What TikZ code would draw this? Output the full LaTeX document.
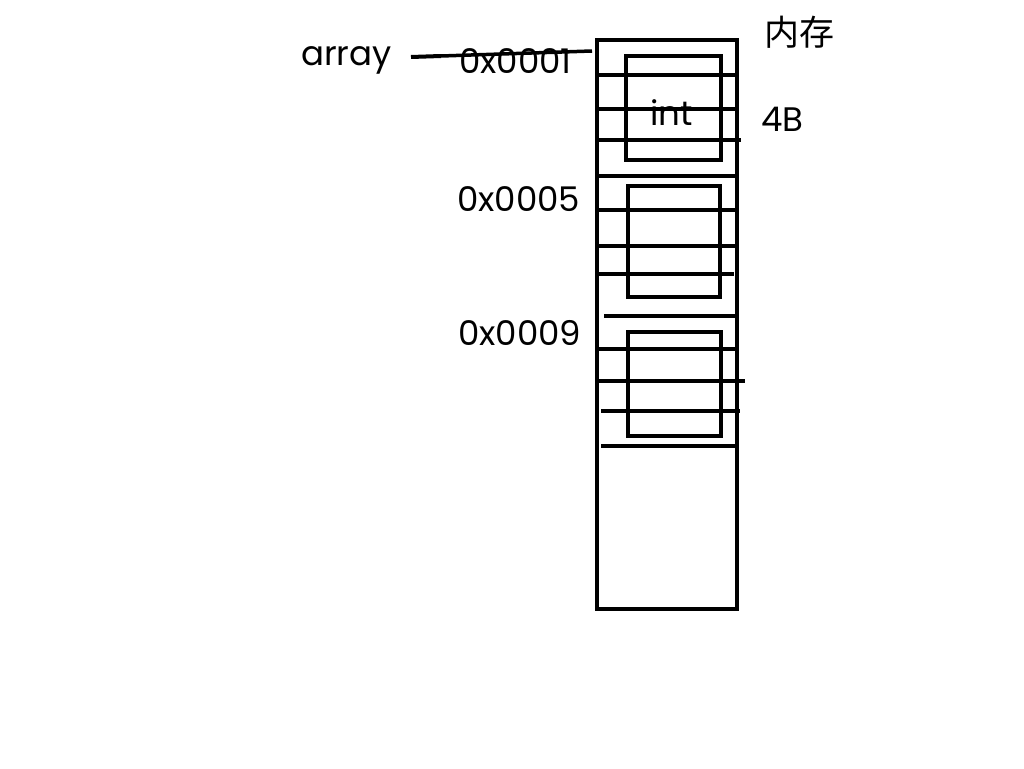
\documentclass[tikz,border=0pt]{standalone}
\usepackage{fontspec}
\setmainfont{Poppins}
\newfontfamily\cjkfont{Noto Sans CJK SC}
\begin{document}
\begin{tikzpicture}[x=1pt,y=-1pt,
  cellline/.style={line width=3.5pt},
  boxline/.style={line width=4pt},
  lbl/.style={inner sep=0pt,font=\fontsize{34}{38}\selectfont}]
\useasboundingbox (0,0) rectangle (1024,768);
% outer memory column
\draw[boxline] (597,40) rectangle (737,609);
% inner int boxes
\draw[boxline] (626,56) rectangle (721,160);
\draw[boxline] (628,186) rectangle (720,297);
\draw[boxline] (628,332) rectangle (721,436);
% byte lines
\draw[cellline] (597,75) -- (737,75);
\draw[cellline] (597,109) -- (737,109);
\draw[cellline] (597,140) -- (741,140);
\draw[cellline] (597,176) -- (737,176);
\draw[cellline] (597,210) -- (737,210);
\draw[cellline] (597,246) -- (737,246);
\draw[cellline] (597,274) -- (734,274);
\draw[cellline] (604,316) -- (737,316);
\draw[cellline] (597,349) -- (737,349);
\draw[cellline] (597,381) -- (745,381);
\draw[cellline] (601,411) -- (740,411);
\draw[cellline] (601,446) -- (737,446);
% labels
\node[lbl,anchor=base west] (arr) at (301,65) {array};
\node[lbl,anchor=base west] (a1) at (459,73) {0x0001};
\node[lbl,anchor=base west] (a5) at (457,211) {0x0005};
\node[lbl,anchor=base west] (a9) at (458,345) {0x0009};
\node[lbl,anchor=base west] (int) at (650,125) {int};
\node[lbl,anchor=base west] (fb) at (761,131) {4B};
\node[lbl,anchor=center,font=\cjkfont\fontsize{35}{38}\selectfont] (mem) at (799,32) {内存};
% pointer line
\coordinate (p0) at (411,57);
\coordinate (p1) at (441,56);
\coordinate (p2) at (592,51);
\draw[line width=4pt] (p0) -- (p1);
\draw[line width=3.5pt] (p1) -- (p2);
\end{tikzpicture}
\end{document}
